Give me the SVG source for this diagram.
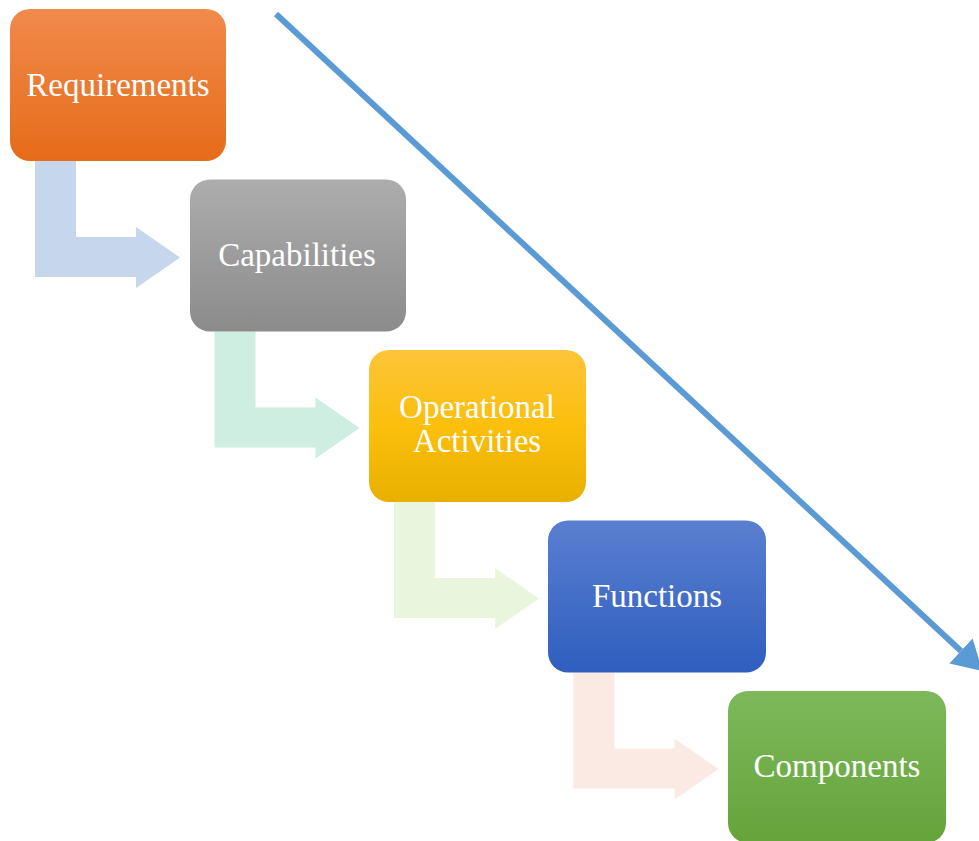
<svg xmlns="http://www.w3.org/2000/svg" width="979" height="841" viewBox="0 0 979 841">
<style>
.lbl{font-family:"Liberation Serif","Times New Roman",serif;font-size:33px;fill:#ffffff;text-anchor:middle}
.bent{stroke:none}
</style>
<defs>
<linearGradient id="gOr" x1="0" y1="0" x2="0" y2="1"><stop offset="0" stop-color="#f18a4c"/><stop offset="1" stop-color="#e56c19"/></linearGradient>
<linearGradient id="gGr" x1="0" y1="0" x2="0" y2="1"><stop offset="0" stop-color="#adadad"/><stop offset="1" stop-color="#8b8b8b"/></linearGradient>
<linearGradient id="gYe" x1="0" y1="0" x2="0" y2="1"><stop offset="0" stop-color="#fdc43a"/><stop offset="0.5" stop-color="#fbbf0c"/><stop offset="1" stop-color="#e9b000"/></linearGradient>
<linearGradient id="gBl" x1="0" y1="0" x2="0" y2="1"><stop offset="0" stop-color="#5a7fd0"/><stop offset="1" stop-color="#2f5ebf"/></linearGradient>
<linearGradient id="gGn" x1="0" y1="0" x2="0" y2="1"><stop offset="0" stop-color="#7db95b"/><stop offset="1" stop-color="#64a43a"/></linearGradient>
<marker id="ah" markerUnits="userSpaceOnUse" markerWidth="30" markerHeight="34" refX="0" refY="15" orient="auto" viewBox="0 0 26 30">
<path d="M0,0 L26,15 L0,30 Z" fill="#5b9bd5"/>
</marker>
<path id="bentShape" d="M35,161 H76 V237 H136 V227 L180,257.5 L136,288 V277 H35 Z"/>
</defs>
<rect width="979" height="841" fill="#ffffff"/>
<g id="connectors">
<use href="#bentShape" fill="#c6d6ed"/>
<use href="#bentShape" fill="#cdeee0" transform="translate(179.5,170.5)"/>
<use href="#bentShape" fill="#eaf5dd" transform="translate(359,341)"/>
<use href="#bentShape" fill="#fbe9e3" transform="translate(538.5,511.5)"/>
<line x1="276" y1="14" x2="961" y2="651" stroke="#5b9bd5" stroke-width="6" marker-end="url(#ah)"/>
</g>
<g id="requirements">
<rect x="10" y="9" width="216" height="152" rx="20" fill="url(#gOr)"/>
<text class="lbl" x="118" y="96">Requirements</text>
</g>
<g id="capabilities">
<rect x="190" y="179.5" width="216" height="152" rx="20" fill="url(#gGr)"/>
<text class="lbl" x="297" y="266">Capabilities</text>
</g>
<g id="operational-activities">
<rect x="369" y="350" width="217" height="152" rx="20" fill="url(#gYe)"/>
<text class="lbl" x="477" y="418">Operational</text>
<text class="lbl" x="477" y="452">Activities</text>
</g>
<g id="functions">
<rect x="548" y="520.5" width="218" height="152" rx="20" fill="url(#gBl)"/>
<text class="lbl" x="657" y="607">Functions</text>
</g>
<g id="components">
<rect x="728" y="691" width="218" height="152" rx="20" fill="url(#gGn)"/>
<text class="lbl" x="837" y="777">Components</text>
</g>
</svg>
